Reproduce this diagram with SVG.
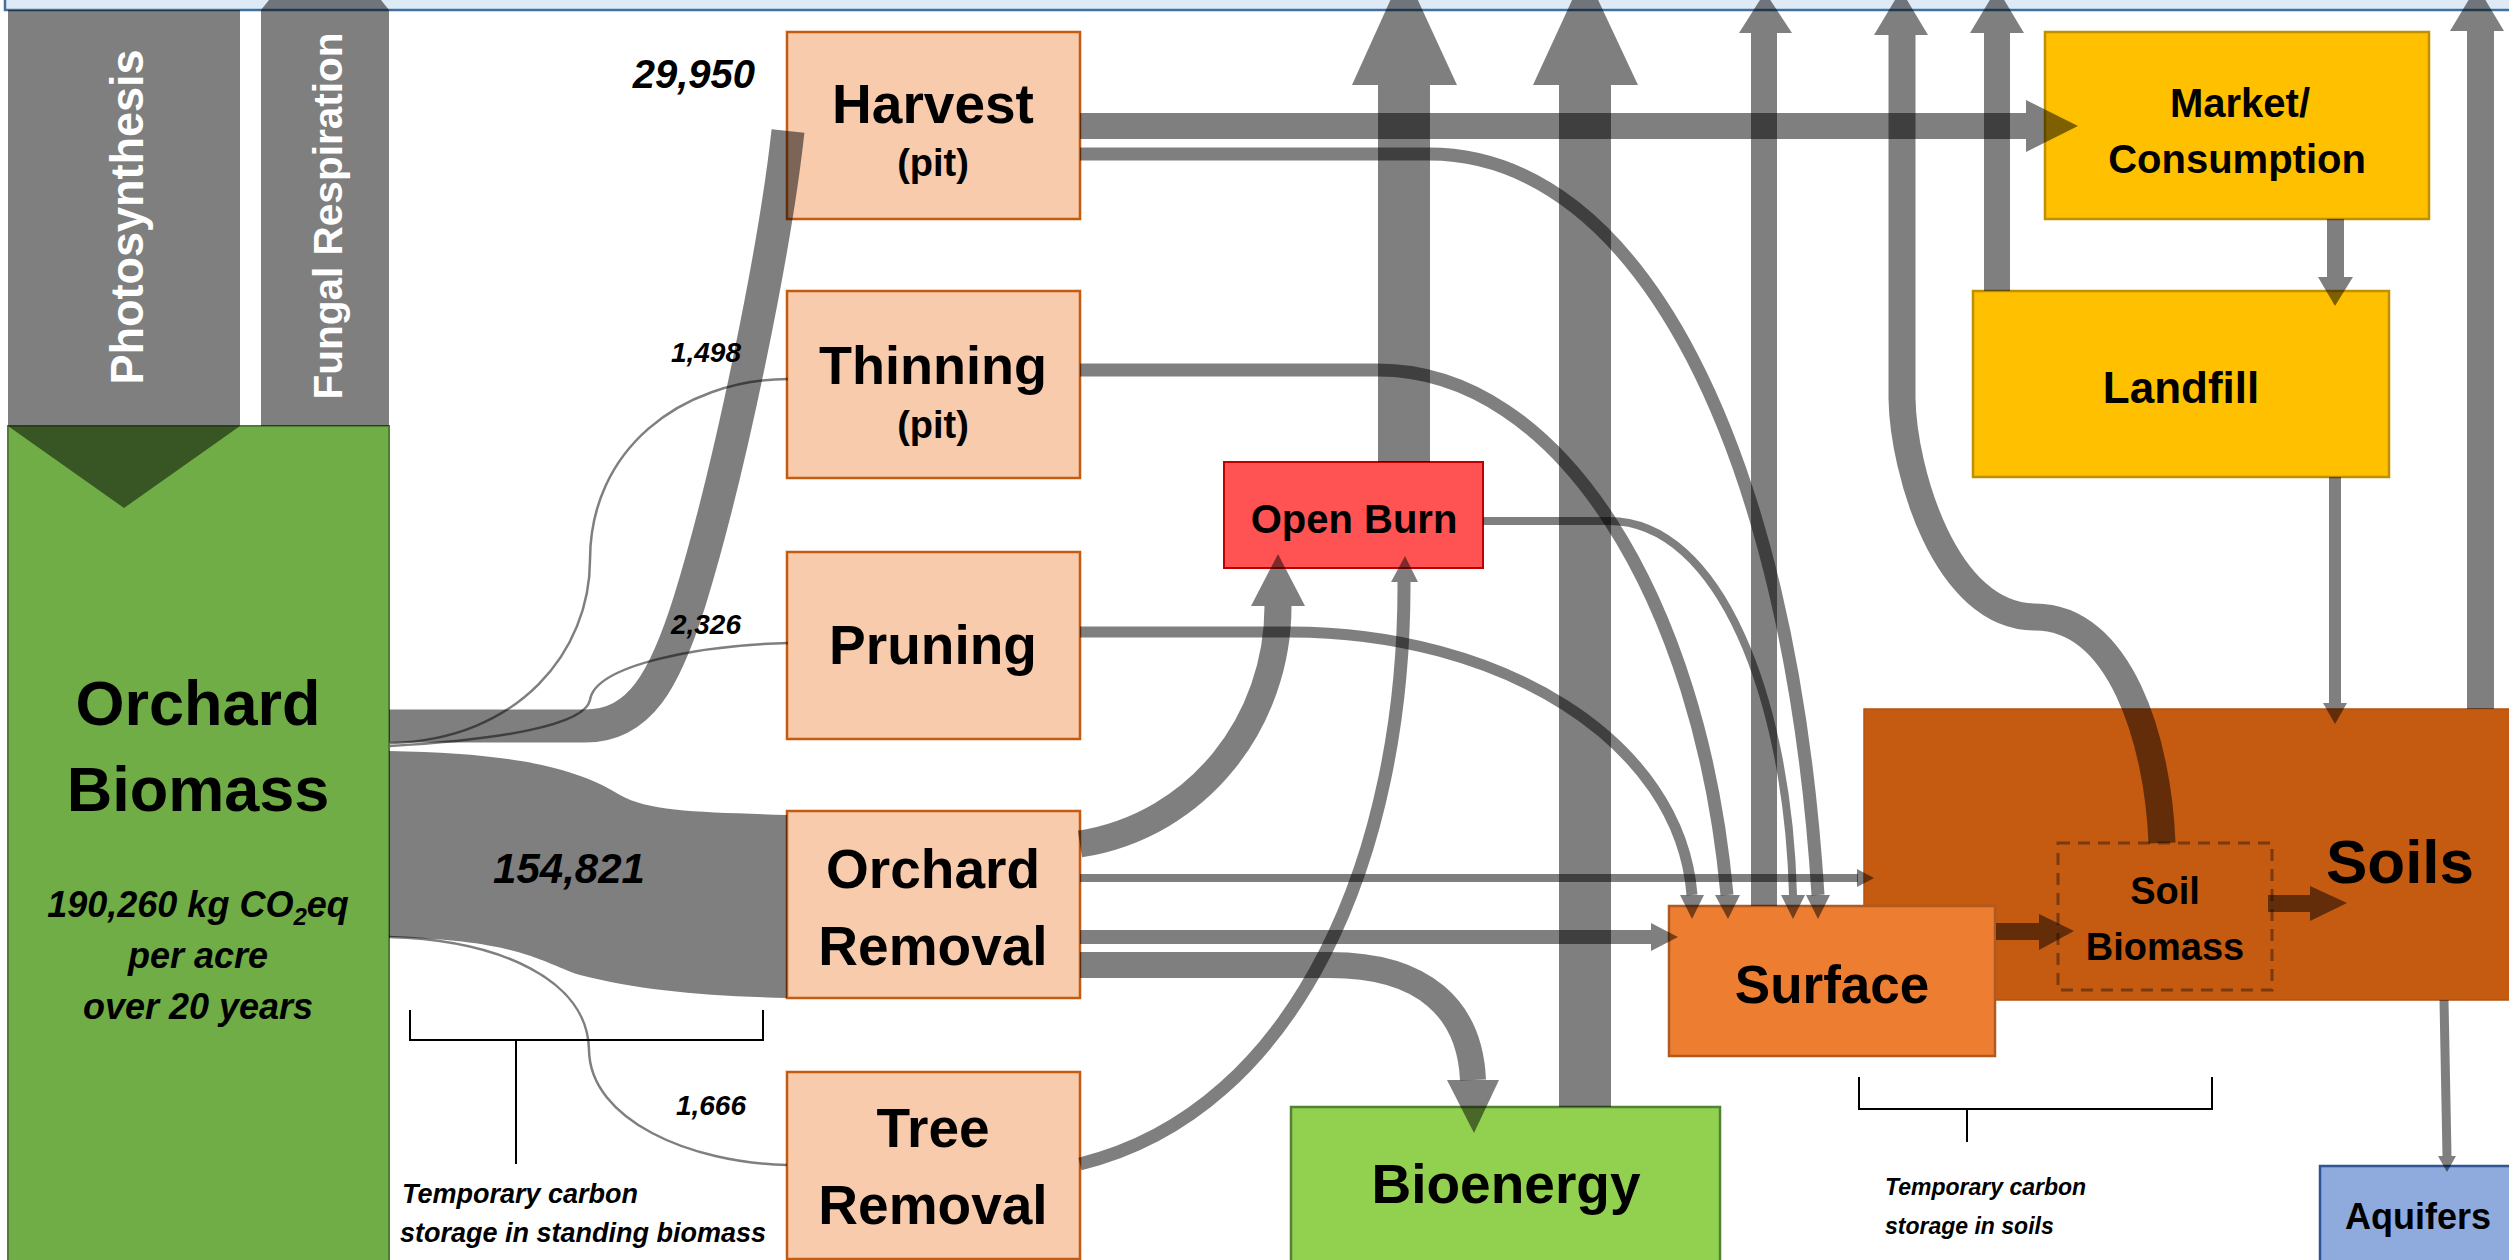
<svg xmlns="http://www.w3.org/2000/svg" width="2509" height="1260" viewBox="0 0 2509 1260">
<style>
.t{font-family:"Liberation Sans",Arial,sans-serif;font-weight:bold;fill:#000}
.it{font-family:"Liberation Sans",Arial,sans-serif;font-weight:bold;font-style:italic;fill:#000}
.c{fill:#000;fill-opacity:.5}
.s{fill:none;stroke:#000;stroke-opacity:.5}
.peach{fill:#F8CBAD;stroke:#C55A11;stroke-width:2.5}
.br{fill:none;stroke:#000;stroke-width:2}
</style>
<rect width="2509" height="1260" fill="#fff"/>
<g id="atmosphere"><rect x="5" y="-10" width="2520" height="20" fill="#DEEBF7" stroke="#41719C" stroke-width="2.5"/></g>

<g id="orchard-biomass">
<rect x="8" y="426" width="381" height="840" fill="#70AD47" stroke="#507E32" stroke-width="2"/>
<text class="t" x="198" y="725" font-size="63" text-anchor="middle">Orchard</text>
<text class="t" x="198" y="811" font-size="63" text-anchor="middle">Biomass</text>
<text class="it" x="198" y="917" font-size="36" text-anchor="middle">190,260 kg CO<tspan font-size="24" dy="8">2</tspan><tspan dy="-8">eq</tspan></text>
<text class="it" x="198" y="968" font-size="36" text-anchor="middle">per acre</text>
<text class="it" x="198" y="1019" font-size="36" text-anchor="middle">over 20 years</text>
</g>

<g id="harvest"><rect class="peach" x="787" y="32" width="293" height="187"/>
<text class="t" x="933" y="123" font-size="55" text-anchor="middle">Harvest</text>
<text class="t" x="933" y="176" font-size="38" text-anchor="middle">(pit)</text></g>
<g id="thinning"><rect class="peach" x="787" y="291" width="293" height="187"/>
<text class="t" x="933" y="384" font-size="54" text-anchor="middle">Thinning</text>
<text class="t" x="933" y="438" font-size="38" text-anchor="middle">(pit)</text></g>
<g id="pruning"><rect class="peach" x="787" y="552" width="293" height="187"/>
<text class="t" x="933" y="664" font-size="55" text-anchor="middle">Pruning</text></g>
<g id="orchard-removal"><rect class="peach" x="787" y="811" width="293" height="187"/>
<text class="t" x="933" y="888" font-size="55" text-anchor="middle">Orchard</text>
<text class="t" x="933" y="965" font-size="55" text-anchor="middle">Removal</text></g>
<g id="tree-removal"><rect class="peach" x="787" y="1072" width="293" height="187"/>
<text class="t" x="933" y="1147" font-size="55" text-anchor="middle">Tree</text>
<text class="t" x="933" y="1224" font-size="55" text-anchor="middle">Removal</text></g>
<g id="open-burn"><rect x="1224" y="462" width="259" height="106" fill="#FF5353" stroke="#C00000" stroke-width="2"/>
<text class="t" x="1354" y="533" font-size="40" text-anchor="middle">Open Burn</text></g>
<g id="market"><rect x="2045" y="32" width="384" height="187" fill="#FFC000" stroke="#BF9000" stroke-width="2.5"/>
<text class="t" x="2240" y="117" font-size="40" text-anchor="middle">Market/</text>
<text class="t" x="2237" y="173" font-size="40" text-anchor="middle">Consumption</text></g>
<g id="landfill"><rect x="1973" y="291" width="416" height="186" fill="#FFC000" stroke="#BF9000" stroke-width="2.5"/>
<text class="t" x="2181" y="403" font-size="44" text-anchor="middle">Landfill</text></g>
<g id="soils"><rect x="1864" y="709" width="660" height="291" fill="#C55A11" stroke="#B5530F" stroke-width="1.5"/>
<text class="t" x="2400" y="883" font-size="62" text-anchor="middle">Soils</text></g>
<g id="soil-biomass"><rect x="2058" y="843" width="214" height="147" fill="none" stroke="#7A3A10" stroke-width="3" stroke-dasharray="12 8"/>
<text class="t" x="2165" y="904" font-size="38" text-anchor="middle">Soil</text>
<text class="t" x="2165" y="960" font-size="38" text-anchor="middle">Biomass</text></g>
<g id="surface"><rect x="1669" y="906" width="326" height="150" fill="#ED7D31" stroke="#AE5A21" stroke-width="2.5"/>
<text class="t" x="1832" y="1003" font-size="53" text-anchor="middle">Surface</text></g>
<g id="bioenergy"><rect x="1291" y="1107" width="429" height="160" fill="#92D050" stroke="#538135" stroke-width="2.5"/>
<text class="t" x="1506" y="1203" font-size="55" text-anchor="middle">Bioenergy</text></g>
<g id="aquifers"><rect x="2320" y="1166" width="200" height="100" fill="#8FAADC" stroke="#2F5597" stroke-width="2.5"/>
<text class="t" x="2418" y="1229" font-size="36" text-anchor="middle">Aquifers</text></g>

<g id="connectors">
<!-- photosynthesis & fungal respiration -->
<rect class="c" x="8" y="10" width="232" height="416"/>
<polygon class="c" points="8,426 240,426 124,508"/>
<polygon class="c" points="261,426 389,426 389,10 381,0 269,0 261,10"/>
<!-- orchard biomass flows -->
<path class="c" d="M389 751 C520 753 580 770 620 795 C650 812 700 812 787 815 L787 998 C700 996 640 990 580 975 C540 962 520 940 389 937 Z"/>
<path class="s" stroke-width="33" d="M389 726 L585 726 C640 726 665 680 690 600 C730 470 775 250 788 131"/>
<path class="s" stroke-width="2.5" d="M390 743 C520 740 590 650 590 560 C590 450 680 380 788 379"/>
<path class="s" stroke-width="2.5" d="M390 746 C500 740 585 725 590 700 C595 665 700 645 788 643"/>
<path class="s" stroke-width="2.5" d="M389 937 C500 940 588 980 589 1050 C590 1120 690 1163 787 1165"/>
<!-- harvest -->
<rect class="c" x="1080" y="113" width="946" height="26"/>
<polygon class="c" points="2026,100 2078,126 2026,152"/>
<path class="s" stroke-width="13" d="M1080 154 L1429 154 C1640 154 1790 450 1818 895"/>
<!-- thinning -->
<path class="s" stroke-width="13" d="M1080 370 L1378 370 C1560 370 1700 600 1727 895"/>
<!-- pruning -->
<path class="s" stroke-width="11" d="M1080 632 L1290 632 C1500 632 1680 740 1692 895"/>
<!-- open burn -->
<path class="s" stroke-width="8" d="M1483 521 L1609 521 C1720 521 1788 700 1793 895"/>
<rect class="c" x="1378" y="85" width="52" height="377"/>
<polygon class="c" points="1352,85 1457,85 1404,-30"/>
<!-- heads on surface -->
<polygon class="c" points="1680,895 1704,895 1692,919"/>
<polygon class="c" points="1715,895 1740,895 1728,919"/>
<polygon class="c" points="1781,895 1805,895 1793,919"/>
<polygon class="c" points="1806,895 1830,895 1818,919"/>
<!-- orchard removal -->
<path class="s" stroke-width="27" d="M1080 844 C1200 825 1278 720 1278 606"/>
<polygon class="c" points="1251,606 1305,606 1278,554"/>
<path class="s" stroke-width="8" d="M1080 878 L1858 878"/>
<polygon class="c" points="1857,869 1874,878 1857,887"/>
<path class="s" stroke-width="14" d="M1080 937 L1651 937"/>
<polygon class="c" points="1651,923 1678,937 1651,951"/>
<path class="s" stroke-width="26" d="M1080 965 L1330 965 C1425 965 1470 1010 1473 1080"/>
<polygon class="c" points="1447,1080 1499,1080 1474,1133"/>
<!-- tree removal -->
<path class="s" stroke-width="13" d="M1080 1164 C1300 1110 1405 850 1404 582"/>
<polygon class="c" points="1391,582 1418,582 1405,556"/>
<!-- bioenergy up -->
<rect class="c" x="1559" y="85" width="52" height="1022"/>
<polygon class="c" points="1533,85 1638,85 1585,-28"/>
<!-- surface up -->
<rect class="c" x="1751" y="33" width="26" height="873"/>
<polygon class="c" points="1739,33 1792,33 1765,-8"/>
<!-- soil biomass up -->
<path class="s" stroke-width="27" d="M2162 843 C2158 740 2120 617 2035 617 C1945 617 1903 470 1902 398 L1902 35"/>
<polygon class="c" points="1874,35 1928,35 1901,-10"/>
<!-- landfill up -->
<rect class="c" x="1984" y="33" width="26" height="258"/>
<polygon class="c" points="1970,33 2024,33 1997,-12"/>
<!-- market to landfill -->
<rect class="c" x="2327" y="219" width="17" height="58"/>
<polygon class="c" points="2318,277 2353,277 2335,306"/>
<!-- landfill to soils -->
<rect class="c" x="2329" y="477" width="12" height="226"/>
<polygon class="c" points="2323,703 2347,703 2335,724"/>
<!-- soils up -->
<rect class="c" x="2467" y="31" width="27" height="678"/>
<polygon class="c" points="2450,31 2504,31 2477,-14"/>
<!-- soils to aquifers -->
<path class="s" stroke-width="9" d="M2444 1000 L2447 1156"/>
<polygon class="c" points="2438,1156 2456,1156 2447,1172"/>
<!-- surface to soil biomass, soil biomass to soils -->
<rect class="c" x="1996" y="923" width="43" height="17"/>
<polygon class="c" points="2039,914 2074,931 2039,950"/>
<rect class="c" x="2268" y="895" width="42" height="17"/>
<polygon class="c" points="2310,886 2347,903 2310,921"/>
</g>

<g id="flow-labels">
<text transform="translate(143,217) rotate(-90)" class="t" font-size="47" fill="#fff" style="fill:#fff" text-anchor="middle" textLength="335" lengthAdjust="spacingAndGlyphs">Photosynthesis</text>
<text transform="translate(342,216) rotate(-90)" class="t" font-size="41" style="fill:#fff" text-anchor="middle" textLength="367" lengthAdjust="spacingAndGlyphs">Fungal Respiration</text>
<text class="it" x="755" y="88" font-size="40" text-anchor="end">29,950</text>
<text class="it" x="741" y="362" font-size="28" text-anchor="end">1,498</text>
<text class="it" x="741" y="634" font-size="28" text-anchor="end">2,326</text>
<text class="it" x="569" y="883" font-size="42" text-anchor="middle">154,821</text>
<text class="it" x="746" y="1115" font-size="28" text-anchor="end">1,666</text>
</g>

<g id="storage-notes">
<path class="br" d="M410 1010 L410 1040 L763 1040 L763 1010 M516 1040 L516 1164"/>
<text class="it" x="402" y="1203" font-size="27">Temporary carbon</text>
<text class="it" x="400" y="1242" font-size="27">storage in standing biomass</text>
<path class="br" d="M1859 1077 L1859 1109 L2212 1109 L2212 1077 M1967 1109 L1967 1142"/>
<text class="it" x="1885" y="1195" font-size="23">Temporary carbon</text>
<text class="it" x="1885" y="1234" font-size="23">storage in soils</text>
</g>
</svg>
